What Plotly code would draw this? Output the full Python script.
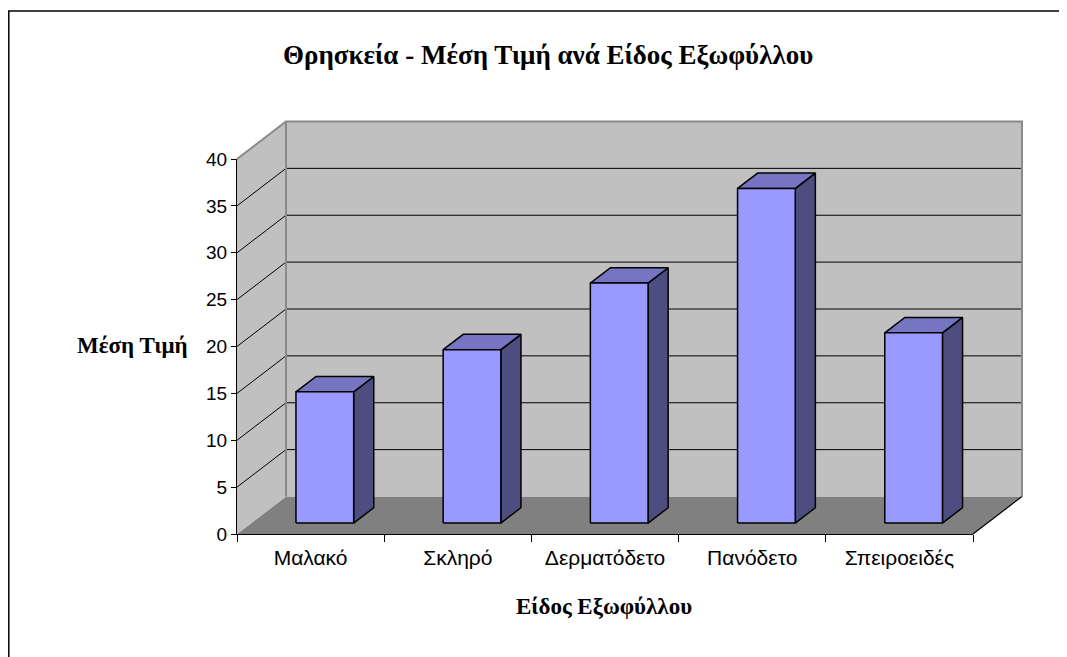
import plotly.graph_objects as go

# ---------------- data ----------------
categories = ["Μαλακό", "Σκληρό", "Δερματόδετο", "Πανόδετο", "Σπειροειδές"]
values = [14.0, 18.5, 25.6, 35.7, 20.3]
y_ticks = [0, 5, 10, 15, 20, 25, 30, 35, 40]
title_text = "Θρησκεία - Μέση Τιμή ανά Είδος Εξωφύλλου"
x_title = "Είδος Εξωφύλλου"
y_title = "Μέση Τιμή"

# ---------------- geometry / style ----------------
OFF = 8                          # page body margin
W, H = 1067 - OFF, 657 - OFF     # figure size so it ends at the window edge


def fx(px):                      # page pixel -> figure pixel
    return px - OFF


X0_PX, X5_PX = fx(237), fx(973)  # front plane: category 0 .. 5
Y0_PX, Y40_PX = fx(534), fx(159) # front plane: value 0 .. 40
NCAT = len(categories)
YMAX = y_ticks[-1]
PX_X = (X5_PX - X0_PX) / NCAT
PX_Y = (Y0_PX - Y40_PX) / YMAX
DX = 49 / PX_X                   # depth offset in data units
DY = 37.5 / PX_Y

BAR_X0, BAR_X1 = 0.304, 0.696
BAR_T1, BAR_T2 = 0.29, 0.70

WALL = "#C0C0C0"
FLOOR = "#808080"
EDGE = "#8A8A8A"
FRONT = "#9999FF"
TOP = "#7575C2"
SIDE = "#4D4D80"
SERIF = "Liberation Serif"
SANS = "Liberation Sans"


def P(x, y, t):
    return x + t * DX, y + t * DY


def poly(pts, fill, lcolor="black", lwidth=0):
    xs = [p[0] for p in pts] + [pts[0][0]]
    ys = [p[1] for p in pts] + [pts[0][1]]
    return go.Scatter(x=xs, y=ys, mode="lines", fill="toself", fillcolor=fill,
                      line=dict(color=lcolor, width=lwidth), hoverinfo="skip",
                      showlegend=False, xaxis="x", yaxis="y")


def segs(list_of_pts, color, width):
    xs, ys = [], []
    for pts in list_of_pts:
        for p in pts:
            xs.append(p[0]); ys.append(p[1])
        xs.append(None); ys.append(None)
    return go.Scatter(x=xs, y=ys, mode="lines", line=dict(color=color, width=width),
                      hoverinfo="skip", showlegend=False, xaxis="x", yaxis="y")


traces = []
# floor and walls
traces.append(poly([P(0, 0, 0), P(NCAT, 0, 0), P(NCAT, 0, 1), P(0, 0, 1)], FLOOR, FLOOR, 0))
traces.append(poly([P(0, 0, 1), P(NCAT, 0, 1), P(NCAT, YMAX, 1), P(0, YMAX, 1)], WALL, WALL, 0))
traces.append(poly([P(0, 0, 0), P(0, 0, 1), P(0, YMAX, 1), P(0, YMAX, 0)], WALL, WALL, 0))

# gridlines
grid = []
for v in y_ticks[1:-1]:
    grid.append([P(0, v, 0), P(0, v, 1), P(NCAT, v, 1)])
traces.append(segs(grid, "black", 1))

# wall edges
traces.append(segs([[P(0, YMAX, 0), P(0, YMAX, 1), P(NCAT, YMAX, 1), P(NCAT, 0, 1)],
                    [P(0, YMAX, 1), P(0, 0, 1)]], EDGE, 2))
# floor right edge
traces.append(segs([[P(NCAT, 0, 0), P(NCAT, 0, 1)]], "black", 1.2))

# bars
for i, v in enumerate(values):
    x0, x1 = i + BAR_X0, i + BAR_X1
    traces.append(poly([P(x1, 0, BAR_T1), P(x1, 0, BAR_T2), P(x1, v, BAR_T2), P(x1, v, BAR_T1)],
                       SIDE, "black", 1.5))
    traces.append(poly([P(x0, v, BAR_T1), P(x1, v, BAR_T1), P(x1, v, BAR_T2), P(x0, v, BAR_T2)],
                       TOP, "black", 1.5))
    traces.append(poly([P(x0, 0, BAR_T1), P(x1, 0, BAR_T1), P(x1, v, BAR_T1), P(x0, v, BAR_T1)],
                       FRONT, "black", 1.5))

# invisible trace for the front-plane axes
traces.append(go.Scatter(x=[None], y=[None], xaxis="x2", yaxis="y2", showlegend=False,
                         hoverinfo="skip"))

fig = go.Figure(traces)

fig.update_layout(
    width=W, height=H, autosize=False,
    margin=dict(l=0, r=0, t=0, b=0, pad=0, autoexpand=False),
    paper_bgcolor="white",
    plot_bgcolor="rgba(0,0,0,0)",
    showlegend=False,
    xaxis=dict(domain=[0, 1], range=[-X0_PX / PX_X, (W - X0_PX) / PX_X],
               visible=False, fixedrange=True, automargin=False),
    yaxis=dict(domain=[0, 1], range=[-(H - Y0_PX) / PX_Y, Y0_PX / PX_Y],
               visible=False, fixedrange=True, automargin=False),
    xaxis2=dict(domain=[X0_PX / W, X5_PX / W], anchor="y2", range=[0, NCAT],
                tickmode="array", tickvals=[i + 0.5 for i in range(NCAT)],
                ticktext=categories, ticks="", showline=True, linecolor="black",
                linewidth=1, showgrid=False, zeroline=False, fixedrange=True,
                automargin=False, ticklabelstandoff=5,
                tickfont=dict(family=SANS, size=21, color="black"),
                minor=dict(tickmode="array", tickvals=list(range(NCAT + 1)),
                           ticks="outside", ticklen=7, tickcolor="black",
                           tickwidth=1, showgrid=False)),
    yaxis2=dict(domain=[(H - Y0_PX) / H, (H - Y40_PX) / H], anchor="x2",
                range=[0, YMAX], tickmode="array", tickvals=y_ticks,
                ticks="outside", ticklen=5, tickcolor="black", showline=True,
                linecolor="black", linewidth=1, showgrid=False, zeroline=False,
                fixedrange=True, automargin=False,
                tickfont=dict(family=SANS, size=19, color="black")),
    shapes=[dict(type="rect", xref="paper", yref="paper",
                 x0=0.8 / W, x1=1.05, y0=-0.05, y1=1 - fx(11) / H,
                 line=dict(color="black", width=1.5), fillcolor="rgba(0,0,0,0)")],
    annotations=[
        dict(text="<b>" + title_text + "</b>", xref="paper", yref="paper",
             x=fx(548) / W, y=1 - fx(55) / H, xanchor="center", yanchor="middle",
             showarrow=False, font=dict(family=SERIF, size=27, color="black")),
        dict(text="<b>" + y_title + "</b>", xref="paper", yref="paper",
             x=fx(132) / W, y=1 - fx(345) / H, xanchor="center", yanchor="middle",
             showarrow=False, font=dict(family=SERIF, size=23, color="black")),
        dict(text="<b>" + x_title + "</b>", xref="paper", yref="paper",
             x=fx(604) / W, y=1 - fx(606) / H, xanchor="center", yanchor="middle",
             showarrow=False, font=dict(family=SERIF, size=23, color="black")),
    ],
)

fig.write_html("out.html")
